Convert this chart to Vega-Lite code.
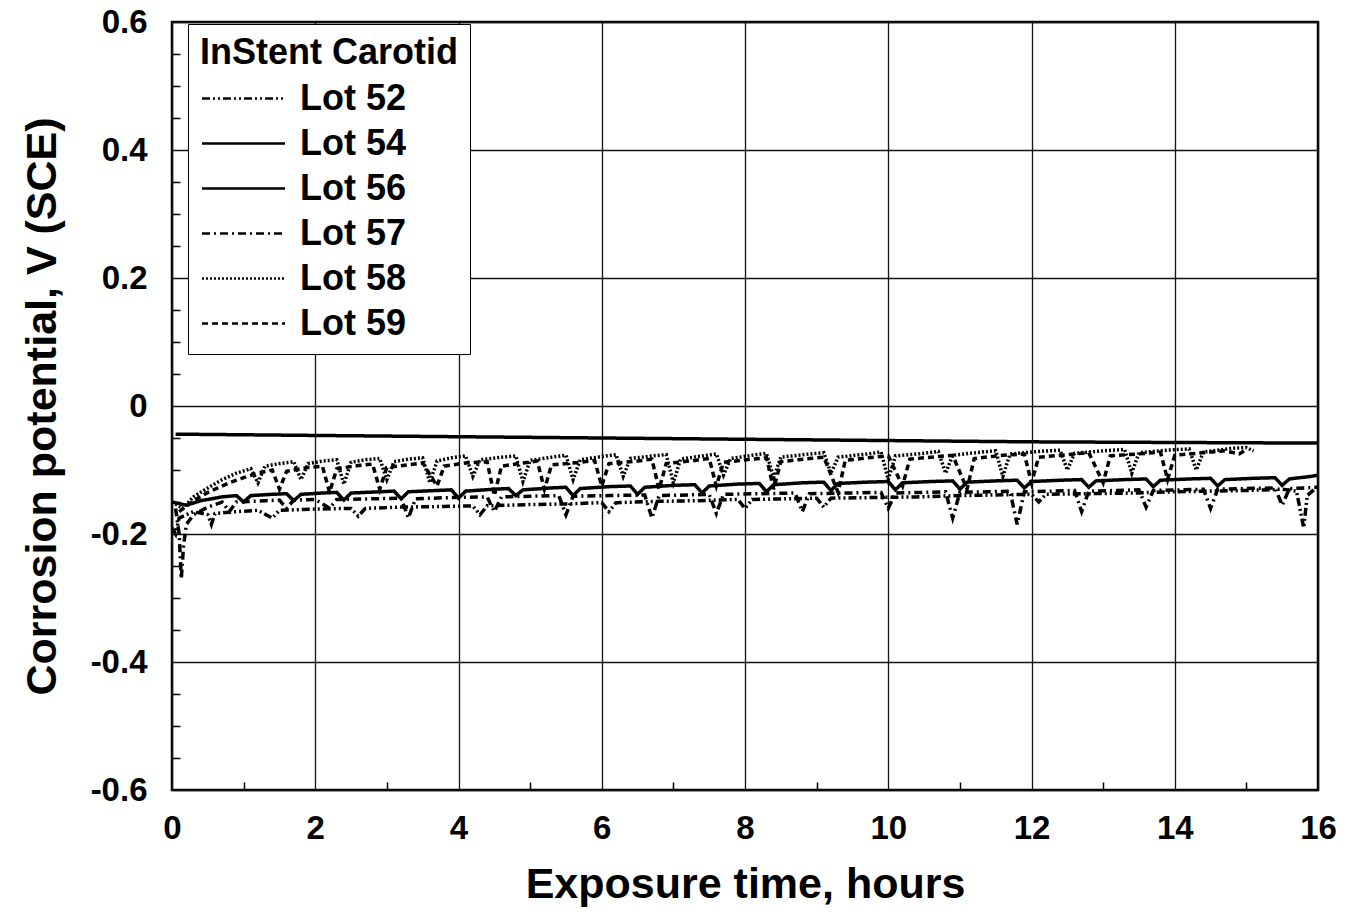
{
"$schema":"https://vega.github.io/schema/vega-lite/v6.json",
"autosize":{"type":"none"},
"padding":{"left":172,"top":22,"right":30,"bottom":126},
"width":1146,"height":768,
"config":{"view":{"stroke":"black","strokeWidth":2.5},"font":"Liberation Sans"},
"data":{"values":[
{"lot":"Lot 54","t":0.05,"v":-0.044},{"lot":"Lot 54","t":2,"v":-0.046},{"lot":"Lot 54","t":4,"v":-0.048},{"lot":"Lot 54","t":6,"v":-0.05},{"lot":"Lot 54","t":8,"v":-0.052},{"lot":"Lot 54","t":10,"v":-0.054},{"lot":"Lot 54","t":12,"v":-0.056},{"lot":"Lot 54","t":14,"v":-0.057},{"lot":"Lot 54","t":16,"v":-0.058},
{"lot":"Lot 58","t":0.0,"v":-0.150},{"lot":"Lot 58","t":0.15,"v":-0.160},{"lot":"Lot 58","t":0.3,"v":-0.142},{"lot":"Lot 58","t":0.5,"v":-0.128},{"lot":"Lot 58","t":0.7,"v":-0.115},{"lot":"Lot 58","t":0.9,"v":-0.105},{"lot":"Lot 58","t":1.1,"v":-0.098},{"lot":"Lot 58","t":1.2,"v":-0.120},{"lot":"Lot 58","t":1.3,"v":-0.094},{"lot":"Lot 58","t":1.5,"v":-0.090},{"lot":"Lot 58","t":1.7,"v":-0.087},{"lot":"Lot 58","t":1.8,"v":-0.115},{"lot":"Lot 58","t":1.9,"v":-0.090},{"lot":"Lot 58","t":2.1,"v":-0.086},{"lot":"Lot 58","t":2.3,"v":-0.084},{"lot":"Lot 58","t":2.4,"v":-0.122},{"lot":"Lot 58","t":2.5,"v":-0.088},{"lot":"Lot 58","t":2.7,"v":-0.084},{"lot":"Lot 58","t":2.9,"v":-0.082},{"lot":"Lot 58","t":3.0,"v":-0.115},{"lot":"Lot 58","t":3.1,"v":-0.087},{"lot":"Lot 58","t":3.3,"v":-0.083},{"lot":"Lot 58","t":3.5,"v":-0.081},{"lot":"Lot 58","t":3.6,"v":-0.120},{"lot":"Lot 58","t":3.7,"v":-0.086},{"lot":"Lot 58","t":3.9,"v":-0.081},{"lot":"Lot 58","t":4.1,"v":-0.078},{"lot":"Lot 58","t":4.2,"v":-0.110},{"lot":"Lot 58","t":4.3,"v":-0.084},{"lot":"Lot 58","t":4.6,"v":-0.080},{"lot":"Lot 58","t":4.8,"v":-0.078},{"lot":"Lot 58","t":4.9,"v":-0.118},{"lot":"Lot 58","t":5.0,"v":-0.085},{"lot":"Lot 58","t":5.3,"v":-0.080},{"lot":"Lot 58","t":5.5,"v":-0.077},{"lot":"Lot 58","t":5.6,"v":-0.115},{"lot":"Lot 58","t":5.7,"v":-0.084},{"lot":"Lot 58","t":6.0,"v":-0.079},{"lot":"Lot 58","t":6.2,"v":-0.076},{"lot":"Lot 58","t":6.3,"v":-0.110},{"lot":"Lot 58","t":6.4,"v":-0.082},{"lot":"Lot 58","t":6.7,"v":-0.078},{"lot":"Lot 58","t":6.9,"v":-0.076},{"lot":"Lot 58","t":7.0,"v":-0.120},{"lot":"Lot 58","t":7.1,"v":-0.083},{"lot":"Lot 58","t":7.4,"v":-0.078},{"lot":"Lot 58","t":7.6,"v":-0.075},{"lot":"Lot 58","t":7.7,"v":-0.108},{"lot":"Lot 58","t":7.8,"v":-0.082},{"lot":"Lot 58","t":8.1,"v":-0.077},{"lot":"Lot 58","t":8.3,"v":-0.074},{"lot":"Lot 58","t":8.4,"v":-0.112},{"lot":"Lot 58","t":8.5,"v":-0.080},{"lot":"Lot 58","t":8.9,"v":-0.075},{"lot":"Lot 58","t":9.1,"v":-0.073},{"lot":"Lot 58","t":9.2,"v":-0.105},{"lot":"Lot 58","t":9.3,"v":-0.080},{"lot":"Lot 58","t":9.7,"v":-0.075},{"lot":"Lot 58","t":9.9,"v":-0.072},{"lot":"Lot 58","t":10.0,"v":-0.115},{"lot":"Lot 58","t":10.1,"v":-0.078},{"lot":"Lot 58","t":10.5,"v":-0.074},{"lot":"Lot 58","t":10.7,"v":-0.071},{"lot":"Lot 58","t":10.8,"v":-0.105},{"lot":"Lot 58","t":10.9,"v":-0.077},{"lot":"Lot 58","t":11.3,"v":-0.072},{"lot":"Lot 58","t":11.5,"v":-0.070},{"lot":"Lot 58","t":11.6,"v":-0.110},{"lot":"Lot 58","t":11.7,"v":-0.075},{"lot":"Lot 58","t":12.1,"v":-0.071},{"lot":"Lot 58","t":12.4,"v":-0.069},{"lot":"Lot 58","t":12.5,"v":-0.100},{"lot":"Lot 58","t":12.6,"v":-0.074},{"lot":"Lot 58","t":13.0,"v":-0.070},{"lot":"Lot 58","t":13.3,"v":-0.068},{"lot":"Lot 58","t":13.4,"v":-0.105},{"lot":"Lot 58","t":13.5,"v":-0.073},{"lot":"Lot 58","t":13.9,"v":-0.069},{"lot":"Lot 58","t":14.2,"v":-0.067},{"lot":"Lot 58","t":14.3,"v":-0.100},{"lot":"Lot 58","t":14.4,"v":-0.072},{"lot":"Lot 58","t":14.8,"v":-0.066},{"lot":"Lot 58","t":15.0,"v":-0.065},{"lot":"Lot 58","t":15.1,"v":-0.070},
{"lot":"Lot 59","t":0.1,"v":-0.165},{"lot":"Lot 59","t":0.3,"v":-0.148},{"lot":"Lot 59","t":0.5,"v":-0.135},{"lot":"Lot 59","t":0.8,"v":-0.120},{"lot":"Lot 59","t":1.0,"v":-0.112},{"lot":"Lot 59","t":1.2,"v":-0.105},{"lot":"Lot 59","t":1.4,"v":-0.100},{"lot":"Lot 59","t":1.5,"v":-0.130},{"lot":"Lot 59","t":1.6,"v":-0.102},{"lot":"Lot 59","t":1.9,"v":-0.096},{"lot":"Lot 59","t":2.1,"v":-0.094},{"lot":"Lot 59","t":2.2,"v":-0.135},{"lot":"Lot 59","t":2.3,"v":-0.098},{"lot":"Lot 59","t":2.6,"v":-0.093},{"lot":"Lot 59","t":2.8,"v":-0.091},{"lot":"Lot 59","t":2.9,"v":-0.130},{"lot":"Lot 59","t":3.0,"v":-0.096},{"lot":"Lot 59","t":3.3,"v":-0.092},{"lot":"Lot 59","t":3.5,"v":-0.089},{"lot":"Lot 59","t":3.7,"v":-0.125},{"lot":"Lot 59","t":3.8,"v":-0.094},{"lot":"Lot 59","t":4.1,"v":-0.089},{"lot":"Lot 59","t":4.4,"v":-0.087},{"lot":"Lot 59","t":4.5,"v":-0.140},{"lot":"Lot 59","t":4.6,"v":-0.094},{"lot":"Lot 59","t":4.9,"v":-0.089},{"lot":"Lot 59","t":5.1,"v":-0.086},{"lot":"Lot 59","t":5.2,"v":-0.130},{"lot":"Lot 59","t":5.3,"v":-0.092},{"lot":"Lot 59","t":5.7,"v":-0.088},{"lot":"Lot 59","t":5.9,"v":-0.085},{"lot":"Lot 59","t":6.0,"v":-0.125},{"lot":"Lot 59","t":6.1,"v":-0.090},{"lot":"Lot 59","t":6.5,"v":-0.086},{"lot":"Lot 59","t":6.7,"v":-0.083},{"lot":"Lot 59","t":6.8,"v":-0.130},{"lot":"Lot 59","t":6.9,"v":-0.090},{"lot":"Lot 59","t":7.3,"v":-0.085},{"lot":"Lot 59","t":7.5,"v":-0.082},{"lot":"Lot 59","t":7.6,"v":-0.125},{"lot":"Lot 59","t":7.7,"v":-0.088},{"lot":"Lot 59","t":8.1,"v":-0.083},{"lot":"Lot 59","t":8.3,"v":-0.081},{"lot":"Lot 59","t":8.4,"v":-0.130},{"lot":"Lot 59","t":8.5,"v":-0.087},{"lot":"Lot 59","t":8.9,"v":-0.082},{"lot":"Lot 59","t":9.1,"v":-0.080},{"lot":"Lot 59","t":9.3,"v":-0.135},{"lot":"Lot 59","t":9.4,"v":-0.085},{"lot":"Lot 59","t":9.8,"v":-0.080},{"lot":"Lot 59","t":10.0,"v":-0.078},{"lot":"Lot 59","t":10.2,"v":-0.125},{"lot":"Lot 59","t":10.3,"v":-0.083},{"lot":"Lot 59","t":10.7,"v":-0.079},{"lot":"Lot 59","t":10.9,"v":-0.077},{"lot":"Lot 59","t":11.1,"v":-0.130},{"lot":"Lot 59","t":11.2,"v":-0.082},{"lot":"Lot 59","t":11.6,"v":-0.077},{"lot":"Lot 59","t":11.9,"v":-0.075},{"lot":"Lot 59","t":12.0,"v":-0.120},{"lot":"Lot 59","t":12.1,"v":-0.080},{"lot":"Lot 59","t":12.6,"v":-0.075},{"lot":"Lot 59","t":12.8,"v":-0.073},{"lot":"Lot 59","t":13.0,"v":-0.120},{"lot":"Lot 59","t":13.1,"v":-0.078},{"lot":"Lot 59","t":13.6,"v":-0.074},{"lot":"Lot 59","t":13.8,"v":-0.072},{"lot":"Lot 59","t":13.9,"v":-0.115},{"lot":"Lot 59","t":14.0,"v":-0.077},{"lot":"Lot 59","t":14.5,"v":-0.072},{"lot":"Lot 59","t":14.7,"v":-0.070},{"lot":"Lot 59","t":14.9,"v":-0.075},{"lot":"Lot 59","t":15.0,"v":-0.068},
{"lot":"Lot 56","t":0.0,"v":-0.150},{"lot":"Lot 56","t":0.2,"v":-0.155},{"lot":"Lot 56","t":0.4,"v":-0.148},{"lot":"Lot 56","t":0.7,"v":-0.142},{"lot":"Lot 56","t":0.9,"v":-0.140},{"lot":"Lot 56","t":1.0,"v":-0.150},{"lot":"Lot 56","t":1.1,"v":-0.140},{"lot":"Lot 56","t":1.4,"v":-0.138},{"lot":"Lot 56","t":1.6,"v":-0.137},{"lot":"Lot 56","t":1.7,"v":-0.148},{"lot":"Lot 56","t":1.8,"v":-0.138},{"lot":"Lot 56","t":2.1,"v":-0.136},{"lot":"Lot 56","t":2.3,"v":-0.135},{"lot":"Lot 56","t":2.4,"v":-0.147},{"lot":"Lot 56","t":2.5,"v":-0.136},{"lot":"Lot 56","t":2.9,"v":-0.134},{"lot":"Lot 56","t":3.1,"v":-0.133},{"lot":"Lot 56","t":3.2,"v":-0.145},{"lot":"Lot 56","t":3.3,"v":-0.134},{"lot":"Lot 56","t":3.7,"v":-0.132},{"lot":"Lot 56","t":3.9,"v":-0.131},{"lot":"Lot 56","t":4.0,"v":-0.144},{"lot":"Lot 56","t":4.1,"v":-0.133},{"lot":"Lot 56","t":4.5,"v":-0.130},{"lot":"Lot 56","t":4.7,"v":-0.129},{"lot":"Lot 56","t":4.8,"v":-0.140},{"lot":"Lot 56","t":4.9,"v":-0.131},{"lot":"Lot 56","t":5.3,"v":-0.128},{"lot":"Lot 56","t":5.5,"v":-0.127},{"lot":"Lot 56","t":5.6,"v":-0.140},{"lot":"Lot 56","t":5.7,"v":-0.129},{"lot":"Lot 56","t":6.1,"v":-0.126},{"lot":"Lot 56","t":6.4,"v":-0.125},{"lot":"Lot 56","t":6.5,"v":-0.138},{"lot":"Lot 56","t":6.6,"v":-0.127},{"lot":"Lot 56","t":7.0,"v":-0.124},{"lot":"Lot 56","t":7.3,"v":-0.123},{"lot":"Lot 56","t":7.4,"v":-0.136},{"lot":"Lot 56","t":7.5,"v":-0.125},{"lot":"Lot 56","t":7.9,"v":-0.122},{"lot":"Lot 56","t":8.2,"v":-0.121},{"lot":"Lot 56","t":8.3,"v":-0.134},{"lot":"Lot 56","t":8.4,"v":-0.123},{"lot":"Lot 56","t":8.8,"v":-0.120},{"lot":"Lot 56","t":9.1,"v":-0.119},{"lot":"Lot 56","t":9.2,"v":-0.132},{"lot":"Lot 56","t":9.3,"v":-0.121},{"lot":"Lot 56","t":9.7,"v":-0.119},{"lot":"Lot 56","t":10.0,"v":-0.118},{"lot":"Lot 56","t":10.1,"v":-0.131},{"lot":"Lot 56","t":10.2,"v":-0.120},{"lot":"Lot 56","t":10.6,"v":-0.118},{"lot":"Lot 56","t":10.9,"v":-0.117},{"lot":"Lot 56","t":11.0,"v":-0.130},{"lot":"Lot 56","t":11.1,"v":-0.119},{"lot":"Lot 56","t":11.5,"v":-0.117},{"lot":"Lot 56","t":11.8,"v":-0.116},{"lot":"Lot 56","t":11.9,"v":-0.128},{"lot":"Lot 56","t":12.0,"v":-0.118},{"lot":"Lot 56","t":12.4,"v":-0.116},{"lot":"Lot 56","t":12.7,"v":-0.115},{"lot":"Lot 56","t":12.8,"v":-0.127},{"lot":"Lot 56","t":12.9,"v":-0.117},{"lot":"Lot 56","t":13.3,"v":-0.115},{"lot":"Lot 56","t":13.6,"v":-0.114},{"lot":"Lot 56","t":13.7,"v":-0.126},{"lot":"Lot 56","t":13.8,"v":-0.116},{"lot":"Lot 56","t":14.2,"v":-0.114},{"lot":"Lot 56","t":14.5,"v":-0.113},{"lot":"Lot 56","t":14.6,"v":-0.125},{"lot":"Lot 56","t":14.7,"v":-0.115},{"lot":"Lot 56","t":15.1,"v":-0.113},{"lot":"Lot 56","t":15.4,"v":-0.112},{"lot":"Lot 56","t":15.5,"v":-0.124},{"lot":"Lot 56","t":15.6,"v":-0.114},{"lot":"Lot 56","t":15.9,"v":-0.110},{"lot":"Lot 56","t":16.0,"v":-0.108},
{"lot":"Lot 52","t":0.0,"v":-0.190},{"lot":"Lot 52","t":0.05,"v":-0.200},{"lot":"Lot 52","t":0.1,"v":-0.175},{"lot":"Lot 52","t":0.3,"v":-0.165},{"lot":"Lot 52","t":0.5,"v":-0.170},{"lot":"Lot 52","t":0.55,"v":-0.185},{"lot":"Lot 52","t":0.6,"v":-0.168},{"lot":"Lot 52","t":0.9,"v":-0.165},{"lot":"Lot 52","t":1.2,"v":-0.163},{"lot":"Lot 52","t":1.4,"v":-0.175},{"lot":"Lot 52","t":1.5,"v":-0.163},{"lot":"Lot 52","t":2.0,"v":-0.161},{"lot":"Lot 52","t":2.5,"v":-0.160},{"lot":"Lot 52","t":2.6,"v":-0.172},{"lot":"Lot 52","t":2.7,"v":-0.160},{"lot":"Lot 52","t":3.2,"v":-0.158},{"lot":"Lot 52","t":3.8,"v":-0.157},{"lot":"Lot 52","t":4.2,"v":-0.156},{"lot":"Lot 52","t":4.3,"v":-0.170},{"lot":"Lot 52","t":4.4,"v":-0.156},{"lot":"Lot 52","t":5.0,"v":-0.154},{"lot":"Lot 52","t":5.5,"v":-0.153},{"lot":"Lot 52","t":6.0,"v":-0.151},{"lot":"Lot 52","t":6.1,"v":-0.165},{"lot":"Lot 52","t":6.2,"v":-0.151},{"lot":"Lot 52","t":6.8,"v":-0.149},{"lot":"Lot 52","t":7.3,"v":-0.148},{"lot":"Lot 52","t":7.9,"v":-0.146},{"lot":"Lot 52","t":8.0,"v":-0.160},{"lot":"Lot 52","t":8.1,"v":-0.146},{"lot":"Lot 52","t":8.6,"v":-0.145},{"lot":"Lot 52","t":9.0,"v":-0.144},{"lot":"Lot 52","t":9.1,"v":-0.158},{"lot":"Lot 52","t":9.2,"v":-0.144},{"lot":"Lot 52","t":9.8,"v":-0.143},{"lot":"Lot 52","t":10.4,"v":-0.142},{"lot":"Lot 52","t":11.0,"v":-0.140},{"lot":"Lot 52","t":11.5,"v":-0.139},{"lot":"Lot 52","t":12.0,"v":-0.138},{"lot":"Lot 52","t":12.1,"v":-0.150},{"lot":"Lot 52","t":12.2,"v":-0.138},{"lot":"Lot 52","t":12.8,"v":-0.137},{"lot":"Lot 52","t":13.4,"v":-0.136},{"lot":"Lot 52","t":14.0,"v":-0.134},{"lot":"Lot 52","t":14.5,"v":-0.133},{"lot":"Lot 52","t":15.0,"v":-0.132},{"lot":"Lot 52","t":15.5,"v":-0.130},{"lot":"Lot 52","t":15.7,"v":-0.133},{"lot":"Lot 52","t":15.8,"v":-0.190},{"lot":"Lot 52","t":15.85,"v":-0.140},{"lot":"Lot 52","t":16.0,"v":-0.125},
{"lot":"Lot 57","t":0.05,"v":-0.160},{"lot":"Lot 57","t":0.1,"v":-0.200},{"lot":"Lot 57","t":0.13,"v":-0.270},{"lot":"Lot 57","t":0.16,"v":-0.220},{"lot":"Lot 57","t":0.2,"v":-0.185},{"lot":"Lot 57","t":0.3,"v":-0.170},{"lot":"Lot 57","t":0.5,"v":-0.158},{"lot":"Lot 57","t":0.7,"v":-0.150},{"lot":"Lot 57","t":0.8,"v":-0.165},{"lot":"Lot 57","t":0.9,"v":-0.150},{"lot":"Lot 57","t":1.3,"v":-0.148},{"lot":"Lot 57","t":1.5,"v":-0.147},{"lot":"Lot 57","t":1.6,"v":-0.160},{"lot":"Lot 57","t":1.7,"v":-0.147},{"lot":"Lot 57","t":2.0,"v":-0.146},{"lot":"Lot 57","t":2.2,"v":-0.160},{"lot":"Lot 57","t":2.3,"v":-0.146},{"lot":"Lot 57","t":2.8,"v":-0.145},{"lot":"Lot 57","t":3.2,"v":-0.144},{"lot":"Lot 57","t":3.3,"v":-0.175},{"lot":"Lot 57","t":3.4,"v":-0.145},{"lot":"Lot 57","t":3.9,"v":-0.143},{"lot":"Lot 57","t":4.4,"v":-0.142},{"lot":"Lot 57","t":4.5,"v":-0.165},{"lot":"Lot 57","t":4.6,"v":-0.142},{"lot":"Lot 57","t":5.0,"v":-0.141},{"lot":"Lot 57","t":5.4,"v":-0.140},{"lot":"Lot 57","t":5.5,"v":-0.170},{"lot":"Lot 57","t":5.6,"v":-0.141},{"lot":"Lot 57","t":6.1,"v":-0.140},{"lot":"Lot 57","t":6.6,"v":-0.139},{"lot":"Lot 57","t":6.7,"v":-0.175},{"lot":"Lot 57","t":6.8,"v":-0.140},{"lot":"Lot 57","t":7.2,"v":-0.139},{"lot":"Lot 57","t":7.5,"v":-0.138},{"lot":"Lot 57","t":7.6,"v":-0.168},{"lot":"Lot 57","t":7.7,"v":-0.138},{"lot":"Lot 57","t":8.2,"v":-0.137},{"lot":"Lot 57","t":8.7,"v":-0.136},{"lot":"Lot 57","t":8.8,"v":-0.165},{"lot":"Lot 57","t":8.9,"v":-0.137},{"lot":"Lot 57","t":9.4,"v":-0.136},{"lot":"Lot 57","t":9.9,"v":-0.135},{"lot":"Lot 57","t":10.0,"v":-0.160},{"lot":"Lot 57","t":10.1,"v":-0.136},{"lot":"Lot 57","t":10.5,"v":-0.135},{"lot":"Lot 57","t":10.8,"v":-0.134},{"lot":"Lot 57","t":10.9,"v":-0.175},{"lot":"Lot 57","t":11.0,"v":-0.135},{"lot":"Lot 57","t":11.4,"v":-0.134},{"lot":"Lot 57","t":11.7,"v":-0.133},{"lot":"Lot 57","t":11.8,"v":-0.185},{"lot":"Lot 57","t":11.9,"v":-0.134},{"lot":"Lot 57","t":12.3,"v":-0.133},{"lot":"Lot 57","t":12.6,"v":-0.132},{"lot":"Lot 57","t":12.7,"v":-0.165},{"lot":"Lot 57","t":12.8,"v":-0.133},{"lot":"Lot 57","t":13.2,"v":-0.132},{"lot":"Lot 57","t":13.5,"v":-0.131},{"lot":"Lot 57","t":13.6,"v":-0.158},{"lot":"Lot 57","t":13.7,"v":-0.132},{"lot":"Lot 57","t":14.1,"v":-0.131},{"lot":"Lot 57","t":14.4,"v":-0.130},{"lot":"Lot 57","t":14.5,"v":-0.160},{"lot":"Lot 57","t":14.6,"v":-0.130},{"lot":"Lot 57","t":15.0,"v":-0.129},{"lot":"Lot 57","t":15.4,"v":-0.128},{"lot":"Lot 57","t":15.5,"v":-0.155},{"lot":"Lot 57","t":15.6,"v":-0.129},{"lot":"Lot 57","t":16.0,"v":-0.127}
]},
"resolve":{"axis":{"x":"independent","y":"independent"}},
"layer":[
{
"mark":{"type":"line","color":"black","strokeWidth":3.5,"clip":true},
"encoding":{
"x":{"field":"t","type":"quantitative","scale":{"domain":[0,16],"nice":false,"zero":false},
 "axis":{"orient":"bottom","values":[0,2,4,6,8,10,12,14,16],"grid":true,"gridColor":"#111","gridWidth":1.3,"gridOpacity":1,
  "domain":false,"ticks":false,"labelFlush":false,
  "labelFont":"Liberation Sans","labelFontWeight":"bold","labelFontSize":33,"labelColor":"black","labelPadding":22,
  "title":"Exposure time, hours","titleFont":"Liberation Sans","titleFontWeight":"bold","titleFontSize":43,"titleColor":"black","titlePadding":18}},
"y":{"field":"v","type":"quantitative","scale":{"domain":[-0.6,0.6],"nice":false,"zero":false},
 "axis":{"orient":"left","values":[-0.6,-0.4,-0.2,0,0.2,0.4,0.6],"labelExpr":"datum.value == 0 ? '0' : replace(format(datum.value, '.1f'), '\u2212', '-')",
  "grid":true,"gridColor":"#111","gridWidth":1.3,"gridOpacity":1,
  "domain":false,"ticks":false,"labelFlush":false,
  "labelFont":"Liberation Sans","labelFontWeight":"bold","labelFontSize":33,"labelColor":"black","labelPadding":25,
  "title":"Corrosion potential, V (SCE)","titleFont":"Liberation Sans","titleFontWeight":"bold","titleFontSize":43,"titleColor":"black","titlePadding":26}},
"strokeDash":{"field":"lot","type":"nominal",
 "scale":{"domain":["Lot 52","Lot 54","Lot 56","Lot 57","Lot 58","Lot 59"],"range":[[8,3,2,3,2,3],[1,0],[1,0],[8,4,2,4],[2,2],[6,4]]},
 "legend":{"orient":"none","legendX":16,"legendY":2,"title":"InStent Carotid","titleFont":"Liberation Sans","titleFontSize":36,"titleFontWeight":"bold","titleColor":"black","titleLimit":600,
  "labelFont":"Liberation Sans","labelFontSize":36,"labelFontWeight":"bold","labelColor":"black","labelOffset":30,"labelLimit":400,
  "symbolType":"M-1.66,0H1.66","symbolSize":2500,"symbolOffset":17,"symbolStrokeWidth":2.5,"symbolStrokeColor":"black","symbolFillColor":"transparent",
  "fillColor":"white","strokeColor":"black","padding":12,"rowPadding":-1,"titlePadding":0}}
}
},
{
"mark":{"type":"line","opacity":0},
"encoding":{
"x":{"field":"t","type":"quantitative",
 "axis":{"orient":"bottom","values":[1,3,5,7,9,11,13,15],"grid":false,"labels":false,"domain":false,"title":null,"tickSize":-8,"tickColor":"black","tickWidth":1.5}},
"y":{"field":"v","type":"quantitative",
 "axis":{"orient":"left","values":[-0.55,-0.5,-0.45,-0.35,-0.3,-0.25,-0.15,-0.1,-0.05,0.05,0.1,0.15,0.25,0.3,0.35,0.45,0.5,0.55],"grid":false,"labels":false,"domain":false,"title":null,"tickSize":-8,"tickColor":"black","tickWidth":1.5}},
"detail":{"field":"lot"}
}
}
]
}
